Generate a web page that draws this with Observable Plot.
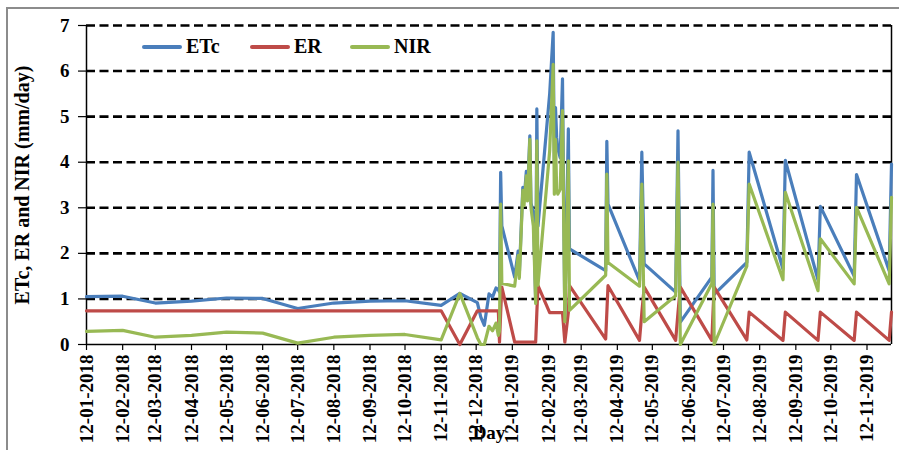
<!DOCTYPE html>
<html>
<head>
<meta charset="utf-8">
<script src="https://cdn.jsdelivr.net/npm/d3@7"></script>
<script src="https://cdn.jsdelivr.net/npm/@observablehq/plot@0.6"></script>
<style>
  body { margin: 0; background: #fff; }
  #wrap { position: relative; width: 899px; height: 450px; overflow: hidden; background: #fff; }
  #frame { position: absolute; left: 6px; top: 7px; right: -2px; bottom: -2px; border-top: 2px solid #8c8c8c; border-left: 2px solid #8c8c8c; pointer-events: none; }
  #legend { position: absolute; left: 142px; top: 35px; display: flex; align-items: center; font: bold 20px "Liberation Serif", serif; color: #000; }
  #legend .item { display: flex; align-items: center; }
  #legend .sw { width: 40px; height: 4px; border-radius: 2px; margin-right: 4px; }
  svg { position: absolute; left: 0; top: 0; }
</style>
</head>
<body>
<div id="wrap">
  <div id="frame"></div>
  <div id="legend"></div>
</div>
<script>
// ---- data ----
const dates = [
  "2018-01-12","2018-02-12","2018-03-12","2018-04-12","2018-05-12","2018-06-12","2018-07-12","2018-08-12","2018-09-12","2018-10-12","2018-11-12",
  "2018-11-28","2018-12-13","2018-12-16","2018-12-19","2018-12-23","2018-12-26","2018-12-29","2018-12-31","2019-01-01","2019-01-02","2019-01-03",
  "2019-01-14","2019-01-17","2019-01-18","2019-01-21","2019-01-22","2019-01-24","2019-01-25","2019-01-27","2019-01-28","2019-01-30","2019-02-01","2019-02-02","2019-02-03",
  "2019-02-13","2019-02-16","2019-02-17","2019-02-18","2019-02-19","2019-02-20","2019-02-22","2019-02-24","2019-02-26","2019-03-01","2019-03-02",
  "2019-04-02","2019-04-03","2019-04-04","2019-05-01","2019-05-03","2019-05-05","2019-06-01","2019-06-03","2019-06-05","2019-07-02","2019-07-03","2019-07-04",
  "2019-08-01","2019-08-03","2019-09-01","2019-09-03","2019-10-01","2019-10-03","2019-11-01","2019-11-03","2019-12-01","2019-12-03"
];
const etcValues = [
  1.05,1.06,0.91,0.95,1.02,1.01,0.79,0.91,0.95,0.96,0.86,
  1.12,0.92,0.60,0.42,1.11,1.04,1.24,1.20,1.15,3.78,2.60,
  1.48,2.05,1.55,3.45,3.15,3.80,3.25,4.58,3.10,2.90,0.95,5.17,2.60,
  5.50,6.85,4.00,5.20,4.55,4.30,4.10,5.83,0.55,4.73,2.10,
  1.62,4.46,3.08,1.40,4.22,1.77,1.15,4.69,0.49,1.48,3.82,1.10,
  1.80,4.22,1.65,4.04,1.42,3.03,1.50,3.73,1.62,3.96
];
const erValues = [
  0.74,0.74,0.74,0.74,0.74,0.74,0.74,0.74,0.74,0.74,0.74,
  0.00,0.74,0.74,0.74,0.74,0.74,0.74,0.74,0.05,0.70,1.26,
  0.05,0.05,0.05,0.05,0.05,0.05,0.05,0.05,0.05,0.05,0.05,0.70,1.29,
  0.70,0.70,0.70,0.70,0.70,0.70,0.70,0.70,0.05,0.70,1.29,
  0.12,0.70,1.29,0.09,0.70,1.26,0.09,0.70,1.26,0.09,0.70,1.26,
  0.10,0.71,0.09,0.71,0.09,0.71,0.09,0.71,0.09,0.71
];
const nirValues = [
  0.29,0.31,0.16,0.20,0.27,0.25,0.03,0.16,0.20,0.22,0.10,
  1.12,0.15,0.00,0.00,0.40,0.30,0.47,0.20,0.30,3.08,1.34,
  1.28,1.95,1.45,3.38,3.05,3.70,3.15,4.50,3.00,2.60,0.90,4.47,1.30,
  4.25,6.15,3.30,4.50,3.40,3.30,3.40,5.13,0.50,4.03,0.75,
  1.52,3.74,1.80,1.28,3.52,0.50,1.07,4.00,0.00,1.34,3.08,0.00,
  1.72,3.52,1.42,3.34,1.18,2.32,1.33,3.01,1.33,3.23
];
const seriesNames = ["ETc", "ER", "NIR"];
const seriesColors = ["#4A7EBB", "#BE4B48", "#98B954"];
const xTickLabels = [
  "12-01-2018","12-02-2018","12-03-2018","12-04-2018","12-05-2018","12-06-2018","12-07-2018","12-08-2018","12-09-2018","12-10-2018","12-11-2018","12-12-2018",
  "12-01-2019","12-02-2019","12-03-2019","12-04-2019","12-05-2019","12-06-2019","12-07-2019","12-08-2019","12-09-2019","12-10-2019","12-11-2019"
];
const yTicks = [0, 1, 2, 3, 4, 5, 6, 7];
const yLabel = "ETc, ER and NIR (mm/day)";
const xLabel = "Day";

// ---- build ----
const parse = d3.utcParse("%Y-%m-%d");
const tparse = d3.utcParse("%d-%m-%Y");
const fmt = d3.utcFormat("%d-%m-%Y");
const rows = dates.map((d, i) => ({date: parse(d), etc: etcValues[i], er: erValues[i], nir: nirValues[i]}));
const xStart = rows[0].date, xEnd = rows[rows.length - 1].date;
const ticks = xTickLabels.map(tparse);
const keys = ["etc", "er", "nir"];

const lineOpts = (k, i) => Plot.line(rows, {x: "date", y: k, stroke: seriesColors[i], strokeWidth: 3.2, strokeLinejoin: "round", strokeLinecap: "round"});

const chart = Plot.plot({
  width: 899, height: 450,
  marginLeft: 86, marginRight: 8, marginTop: 25, marginBottom: 106,
  style: {fontFamily: "'Liberation Serif', serif", fontWeight: "bold", color: "#000", background: "transparent", overflow: "visible"},
  x: {type: "utc", domain: [xStart, xEnd]},
  y: {domain: [0, 7]},
  marks: [
    Plot.ruleY(yTicks.filter(v => v > 0), {stroke: "#000", strokeWidth: 2.6, strokeDasharray: "9,4.5"}),
    Plot.ruleX([xEnd], {stroke: "#000", strokeWidth: 1.5}),
    Plot.ruleX([xStart], {stroke: "#000", strokeWidth: 1.5}),
    Plot.ruleY([0], {stroke: "#000", strokeWidth: 1.5}),
    Plot.axisY({ticks: yTicks, tickFormat: d3.format("d"), tickSize: 8, tickPadding: 9, fontSize: 19, label: null, strokeWidth: 1.2}),
    Plot.axisX({ticks: ticks, tickFormat: fmt, tickRotate: -90, tickSize: 6, tickPadding: 4, fontSize: 19, label: null, strokeWidth: 1.2}),
    ...keys.map((k, i) => lineOpts(k, i)),
    Plot.text([yLabel], {text: d => d, frameAnchor: "left", textAnchor: "middle", rotate: -90, dx: -64, fontSize: 20, fontWeight: "bold"}),
    Plot.text([xLabel], {text: d => d, frameAnchor: "bottom", textAnchor: "middle", dy: 94, fontSize: 19, fontWeight: "bold"})
  ]
});
document.getElementById("wrap").appendChild(chart);

// legend
const legend = document.getElementById("legend");
const itemWidths = [108, 100, 100];
seriesNames.forEach((name, i) => {
  const item = document.createElement("div");
  item.className = "item";
  item.style.width = itemWidths[i] + "px";
  const sw = document.createElement("span");
  sw.className = "sw";
  sw.style.background = seriesColors[i];
  const tx = document.createElement("span");
  tx.textContent = name;
  item.appendChild(sw); item.appendChild(tx);
  legend.appendChild(item);
});
</script>
</body>
</html>
